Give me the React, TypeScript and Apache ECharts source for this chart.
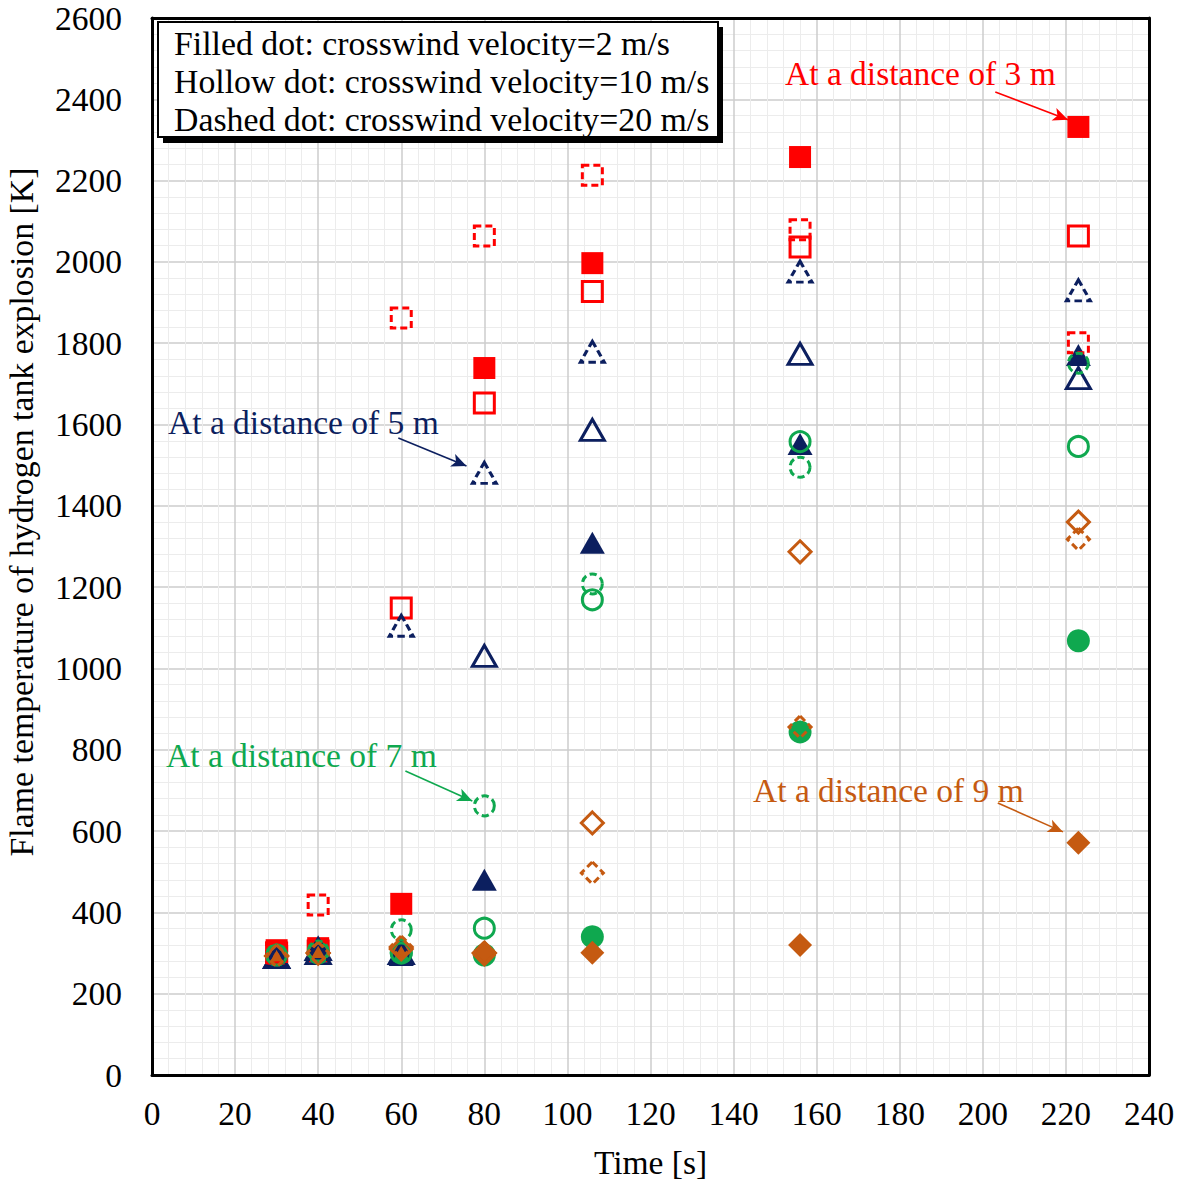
import React, { useEffect, useRef } from "react";
import * as echarts from "echarts";

const times = [30, 40, 60, 80, 106, 156, 223];

// 3 m (red squares)
const red2 = [307, 312, 421, 1739, 1997, 2258, 2332];
const red10 = [300, 305, 1149, 1653, 1927, 2037, 2064];
const red20 = [300, 418, 1862, 2064, 2213, 2079, 1801];
// 5 m (navy triangles)
const navy2 = [290, 312, 295, 480, 1309, 1552, 1771];
const navy10 = [290, 300, 300, 1031, 1587, 1774, 1714];
const navy20 = [290, 310, 1105, 1481, 1779, 1976, 1930];
// 7 m (green circles)
const green2 = [295, 300, 300, 295, 340, 844, 1068];
const green10 = [295, 300, 300, 361, 1169, 1558, 1546];
const green20 = [295, 305, 357, 662, 1208, 1495, 1751];
// 9 m (orange diamonds)
const orange2 = [293, 300, 312, 295, 301, 320, 571];
const orange10 = [293, 300, 310, 300, 620, 1287, 1360];
const orange20 = [293, 300, 315, 300, 497, 856, 1318];

const xTicks = [0, 20, 40, 60, 80, 100, 120, 140, 160, 180, 200, 220, 240];
const yTicks = [0, 200, 400, 600, 800, 1000, 1200, 1400, 1600, 1800, 2000, 2200, 2400, 2600];

const xTitle = "Time [s]";
const yTitle = "Flame temperature of hydrogen tank explosion [K]";

const legendLines = [
  "Filled dot: crosswind velocity=2 m/s",
  "Hollow dot: crosswind velocity=10 m/s",
  "Dashed dot: crosswind velocity=20 m/s",
];

const RED = "#ff0000";
const NAVY = "#0c1f5f";
const GREEN = "#0fa84f";
const ORANGE = "#c55a11";

// annotation arrows in data coordinates
const arrows = [
  { from: [203, 2418], to: [220.5, 2350], color: RED },
  { from: [59.3, 1567], to: [75.7, 1498], color: NAVY },
  { from: [61, 748], to: [77.1, 674], color: GREEN },
  { from: [203.6, 669], to: [219.3, 598], color: ORANGE },
];

const annotations = [
  { text: "At a distance of 3 m", x: 785, y: 73, color: RED },
  { text: "At a distance of 5 m", x: 168, y: 422, color: NAVY },
  { text: "At a distance of 7 m", x: 166, y: 755, color: GREEN },
  { text: "At a distance of 9 m", x: 753, y: 790, color: ORANGE },
];

const FONT = "Liberation Serif";

function mk(
  name: string,
  vals: number[],
  symbol: string,
  size: number | number[],
  color: string,
  kind: "filled" | "hollow" | "dashed"
) {
  const itemStyle: any =
    kind === "filled"
      ? { color, borderWidth: 0, opacity: 1 }
      : {
          color: "rgba(0,0,0,0)",
          borderColor: color,
          borderWidth: 3,
          borderType: kind === "dashed" ? [7, 4] : "solid",
          opacity: 1,
        };
  return {
    name,
    type: "scatter",
    symbol,
    symbolSize: size,
    data: times.map((t, i) => [t, vals[i]]),
    itemStyle,
    z: 3,
  };
}

export default function App() {
  const ref = useRef<HTMLDivElement>(null);
  useEffect(() => {
    if (!ref.current) return;
    const chart = echarts.init(ref.current, null, { renderer: "svg" });
    const sq = 21;
    const tri = [24, 21];
    const circ = 21;
    const dia = 24;
    const series: any[] = [
      mk("red2", red2, "rect", sq + 1, RED, "filled"),
      mk("navy2", navy2, "triangle", [tri[0] + 1, tri[1] + 1], NAVY, "filled"),
      mk("green2", green2, "circle", circ + 2, GREEN, "filled"),
      mk("orange2", orange2, "diamond", dia, ORANGE, "filled"),
      mk("red10", red10, "rect", sq - 1, RED, "hollow"),
      mk("navy10", navy10, "triangle", tri, NAVY, "hollow"),
      mk("green10", green10, "circle", circ - 1, GREEN, "hollow"),
      mk("orange10", orange10, "diamond", dia - 2, ORANGE, "hollow"),
      mk("red20", red20, "rect", sq - 1, RED, "dashed"),
      mk("navy20", navy20, "triangle", tri, NAVY, "dashed"),
      mk("green20", green20, "circle", circ - 1, GREEN, "dashed"),
      mk("orange20", orange20, "diamond", dia - 2, ORANGE, "dashed"),
    ];
    series.push({
      type: "scatter",
      data: [],
      silent: true,
      markLine: {
        silent: true,
        symbol: ["none", "arrow"],
        symbolSize: [10, 15],
        label: { show: false },
        data: arrows.map((a) => [
          { coord: a.from, lineStyle: { color: a.color, width: 1.6, type: "solid", opacity: 1 }, itemStyle: { color: a.color } },
          { coord: a.to },
        ]),
      },
    });

    const graphic: any[] = [
      { type: "rect", shape: { x: 163, y: 27, width: 560, height: 116 }, style: { fill: "#000" }, z: 10 },
      { type: "rect", shape: { x: 158, y: 22, width: 560, height: 115 }, style: { fill: "#fff", stroke: "#000", lineWidth: 2 }, z: 11 },
      ...legendLines.map((t, i) => ({
        type: "text",
        z: 12,
        style: { text: t, x: 174, y: 43 + i * 38, fill: "#000", font: `33.8px '${FONT}'`, verticalAlign: "middle" },
      })),
      ...annotations.map((a) => ({
        type: "text",
        z: 12,
        style: { text: a.text, x: a.x, y: a.y, fill: a.color, font: `33.5px '${FONT}'`, verticalAlign: "middle" },
      })),
      {
        type: "text",
        z: 12,
        x: 21,
        y: 512,
        rotation: Math.PI / 2,
        style: { text: yTitle, x: 0, y: 0, fill: "#000", font: `33.8px '${FONT}'`, align: "center", verticalAlign: "middle" },
      },
    ];

    chart.setOption({
      animation: false,
      backgroundColor: "#fff",
      grid: { left: 152, right: 32, top: 18, bottom: 109, containLabel: false, outerBoundsMode: "none" },
      xAxis: [
        {
          type: "value",
          min: xTicks[0],
          max: xTicks[xTicks.length - 1],
          interval: 20,
          name: xTitle,
          nameLocation: "middle",
          nameGap: 70,
          nameTextStyle: { fontFamily: FONT, fontSize: 33.5, color: "#000" },
          axisLine: { show: true, onZero: false, lineStyle: { color: "#000", width: 3 } },
          axisTick: { show: false },
          axisLabel: { fontFamily: FONT, fontSize: 33.5, color: "#000", margin: 21, formatter: (v: number) => String(v) },
          splitLine: { show: true, lineStyle: { color: "#cccccc", width: 1.5 } },
          minorTick: { show: false, splitNumber: 5 },
          minorSplitLine: { show: true, lineStyle: { color: "#ececec", width: 1 } },
        },
        {
          type: "value",
          position: "top",
          min: 0,
          max: 240,
          interval: 20,
          axisLine: { show: true, onZero: false, lineStyle: { color: "#000", width: 3 } },
          axisTick: { show: false },
          axisLabel: { show: false },
          splitLine: { show: false },
        },
      ],
      yAxis: [
        {
          type: "value",
          min: yTicks[0],
          max: yTicks[yTicks.length - 1],
          interval: 200,
          axisLine: { show: true, onZero: false, lineStyle: { color: "#000", width: 3 } },
          axisTick: { show: false },
          axisLabel: { fontFamily: FONT, fontSize: 33.5, color: "#000", margin: 30, formatter: (v: number) => String(v) },
          splitLine: { show: true, lineStyle: { color: "#cccccc", width: 1.5 } },
          minorTick: { show: false, splitNumber: 5 },
          minorSplitLine: { show: true, lineStyle: { color: "#ececec", width: 1 } },
        },
        {
          type: "value",
          position: "right",
          min: 0,
          max: 2600,
          interval: 200,
          axisLine: { show: true, onZero: false, lineStyle: { color: "#000", width: 3 } },
          axisTick: { show: false },
          axisLabel: { show: false },
          splitLine: { show: false },
        },
      ],
      series,
      graphic,
    });
    return () => chart.dispose();
  }, []);
  return (
    <div
      ref={ref}
      style={{ position: "absolute", left: 0, top: 0, width: 1181, height: 1184, background: "#fff" }}
    />
  );
}
